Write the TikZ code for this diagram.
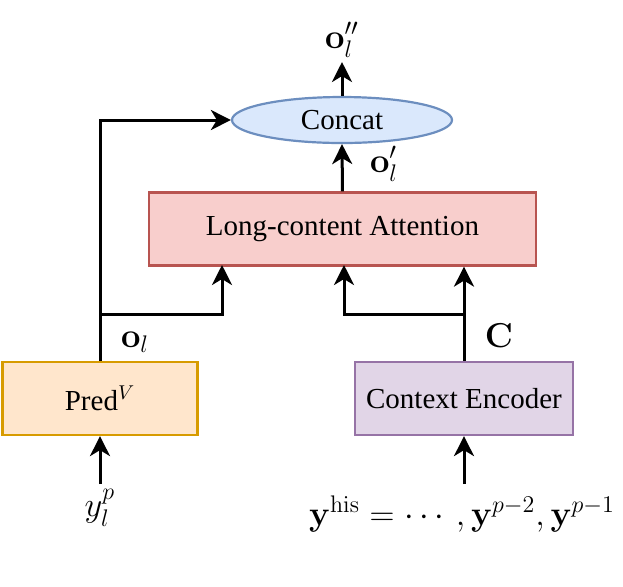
\documentclass[tikz,border=0pt]{standalone}
\usepackage{amsmath}
\usepackage[no-math]{fontspec}
\setmainfont{Liberation Serif}
\usetikzlibrary{arrows.meta,shapes.geometric}
\definecolor{blueF}{HTML}{DAE8FC}\definecolor{blueD}{HTML}{6C8EBF}
\definecolor{redF}{HTML}{F8CECC}\definecolor{redD}{HTML}{B85450}
\definecolor{orF}{HTML}{FFE6CC}\definecolor{orD}{HTML}{D79B00}
\definecolor{puF}{HTML}{E1D5E7}\definecolor{puD}{HTML}{9673A6}
\tikzset{
  box/.style={draw, line width=1.1pt, minimum height=36.5pt, inner sep=0pt, font=\fontsize{14.5}{17}\selectfont},
  conn/.style={line width=1.5pt, line join=miter, -{Stealth[length=10pt,width=10pt,inset=3pt]}},
  lab/.style={font=\fontsize{18}{21}\selectfont, inner sep=0pt},
}
\begin{document}
\begin{tikzpicture}[x=0.5pt,y=-0.5pt]
\useasboundingbox (0,0) rectangle (623,586);
\node[box, ellipse, fill=blueF, draw=blueD, minimum width=110pt, minimum height=23pt] (concat) at (342,120) {Concat};
\node[box, fill=redF, draw=redD, minimum width=193.5pt] (att) at (342.5,229) {Long-content Attention};
\node[box, fill=orF, draw=orD, minimum width=97.5pt] (pred) at (100,398.5) {Pred$^{V}$};
\node[box, fill=puF, draw=puD, minimum width=109pt] (ctx) at (464,398.5) {Context Encoder};
\coordinate (top) at (342,62);
\coordinate (inL) at (100,484);
\coordinate (inR) at (464,484);
\coordinate (jL) at (100,314);
\coordinate (jR) at (464,314);
\node[lab] (oll) at (342,40) {$\mathbf{o}_l''$};
\node[lab] (olp) at (384,164) {$\mathbf{o}_l'$};
\node[lab] (ol) at (135,342) {$\mathbf{o}_l$};
\node[lab] (C) at (499,336) {$\mathbf{C}$};
\node[lab, anchor=base] (ylp) at (100,516) {$y_l^p$};
\node[lab, anchor=base] (yhis) at (462,525) {$\mathbf{y}^{\mathrm{his}}=\cdots,\mathbf{y}^{p-2},\mathbf{y}^{p-1}$};
\draw[conn] (concat.north) -- (top);
\draw[conn] (att.north) -- (concat.south);
\draw[conn] (pred.north) |- (concat.west);
\draw[conn] (jL) -- (222,314) -- (222,265);
\draw[conn] (ctx.north) -- (att.south -| ctx.north);
\draw[conn] (jR) -- (344,314) -- (344,265);
\draw[conn] (inL) -- (pred.south);
\draw[conn] (inR) -- (ctx.south);
\end{tikzpicture}
\end{document}
